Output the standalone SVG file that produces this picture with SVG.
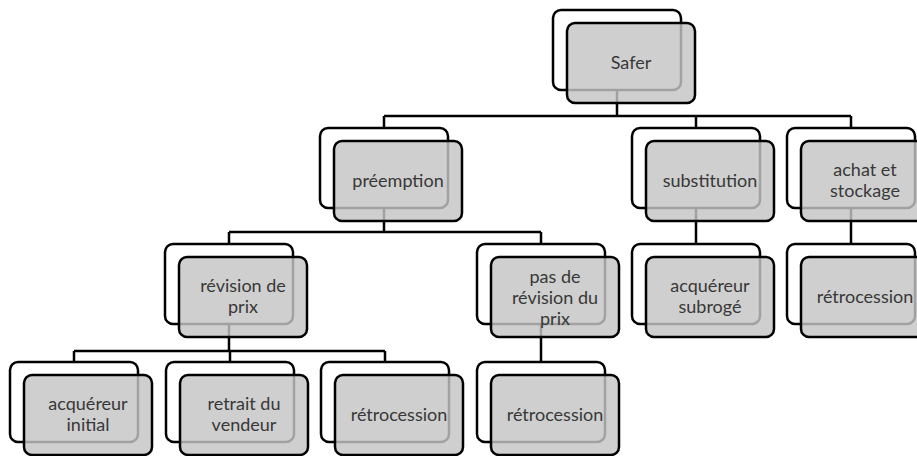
<svg xmlns="http://www.w3.org/2000/svg" width="917" height="456" viewBox="0 0 917 456">
<style>
.back{fill:#ffffff;stroke:#000000;stroke-width:2.5}
.front{fill:#c4c4c4;fill-opacity:0.82;stroke:#000000;stroke-width:2.5}
.conn{fill:none;stroke:#000000;stroke-width:2.5}
.lbl{font-family:Lato,"Open Sans",sans-serif;font-size:18px;fill:#383838;text-anchor:middle}
</style>
<rect width="917" height="456" fill="#ffffff"/>
<g id="connectors">
<path class="conn" d="M617,90 V116 M384,116 H851 M384,116 V128 M696,116 V128 M851,116 V128"/>
<path class="conn" d="M384,208 V232 M229,232 H541 M229,232 V244 M541,232 V244"/>
<path class="conn" d="M696,208 V244"/>
<path class="conn" d="M851,208 V244"/>
<path class="conn" d="M229,324 V351 M74,351 H385 M74,351 V362 M230,351 V362 M385,351 V362"/>
<path class="conn" d="M541,324 V362"/>
</g>
<g id="n-safer">
<rect class="back" x="553" y="10" width="128" height="80" rx="8"/>
<rect class="front" x="567" y="23" width="128" height="80" rx="8"/>
<text class="lbl" x="631" y="69">Safer</text>
</g>
<g id="n-preemption">
<rect class="back" x="320" y="128" width="128" height="80" rx="8"/>
<rect class="front" x="334" y="141" width="128" height="80" rx="8"/>
<text class="lbl" x="398" y="187">préemption</text>
</g>
<g id="n-substitution">
<rect class="back" x="632" y="128" width="128" height="80" rx="8"/>
<rect class="front" x="646" y="141" width="128" height="80" rx="8"/>
<text class="lbl" x="710" y="187">substitution</text>
</g>
<g id="n-achat">
<rect class="back" x="787" y="128" width="128" height="80" rx="8"/>
<rect class="front" x="801" y="141" width="128" height="80" rx="8"/>
<text class="lbl" x="865" y="176">achat et</text>
<text class="lbl" x="865" y="197">stockage</text>
</g>
<g id="n-revision">
<rect class="back" x="165" y="244" width="128" height="80" rx="8"/>
<rect class="front" x="179" y="257" width="128" height="80" rx="8"/>
<text class="lbl" x="243" y="292">révision de</text>
<text class="lbl" x="243" y="313">prix</text>
</g>
<g id="n-pasrevision">
<rect class="back" x="477" y="244" width="128" height="80" rx="8"/>
<rect class="front" x="491" y="257" width="128" height="80" rx="8"/>
<text class="lbl" x="555" y="283">pas de</text>
<text class="lbl" x="555" y="304">révision du</text>
<text class="lbl" x="555" y="325">prix</text>
</g>
<g id="n-subroge">
<rect class="back" x="632" y="244" width="128" height="80" rx="8"/>
<rect class="front" x="646" y="257" width="128" height="80" rx="8"/>
<text class="lbl" x="710" y="292">acquéreur</text>
<text class="lbl" x="710" y="313">subrogé</text>
</g>
<g id="n-retro-achat">
<rect class="back" x="787" y="244" width="128" height="80" rx="8"/>
<rect class="front" x="801" y="257" width="128" height="80" rx="8"/>
<text class="lbl" x="865" y="303">rétrocession</text>
</g>
<g id="n-acq-initial">
<rect class="back" x="10" y="362" width="128" height="80" rx="8"/>
<rect class="front" x="24" y="375" width="128" height="80" rx="8"/>
<text class="lbl" x="88" y="410">acquéreur</text>
<text class="lbl" x="88" y="431">initial</text>
</g>
<g id="n-retrait">
<rect class="back" x="166" y="362" width="128" height="80" rx="8"/>
<rect class="front" x="180" y="375" width="128" height="80" rx="8"/>
<text class="lbl" x="244" y="410">retrait du</text>
<text class="lbl" x="244" y="431">vendeur</text>
</g>
<g id="n-retro-revision">
<rect class="back" x="321" y="362" width="128" height="80" rx="8"/>
<rect class="front" x="335" y="375" width="128" height="80" rx="8"/>
<text class="lbl" x="399" y="421">rétrocession</text>
</g>
<g id="n-retro-pas">
<rect class="back" x="477" y="362" width="128" height="80" rx="8"/>
<rect class="front" x="491" y="375" width="128" height="80" rx="8"/>
<text class="lbl" x="555" y="421">rétrocession</text>
</g>
</svg>
